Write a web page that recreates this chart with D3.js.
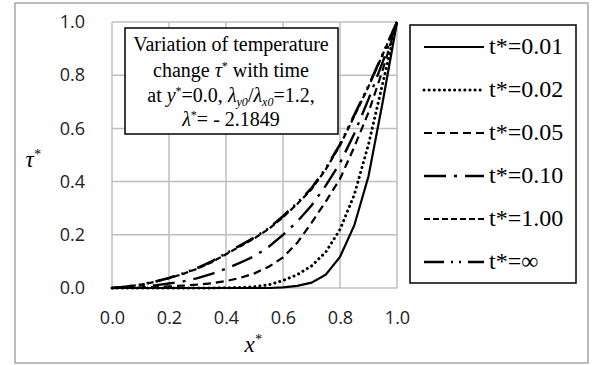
<!DOCTYPE html>
<html>
<head>
<meta charset="utf-8">
<script src="https://cdn.jsdelivr.net/npm/d3@7"></script>
<style>
  body { margin: 0; background: #fff; }
  svg { display: block; }
</style>
</head>
<body>
<svg id="chart" width="593" height="365"></svg>
<script>
// x* positions of the data points
const xVals = [0, 0.05, 0.1, 0.15, 0.2, 0.25, 0.3, 0.35, 0.4, 0.45, 0.5, 0.55, 0.6, 0.65, 0.7, 0.75, 0.8, 0.85, 0.9, 0.95, 1.0]
// tau* for each time
const tau001 = [0, 0, 0, 0, 0, 0, 0, 0, 0, 0, 0, 0, 0.002, 0.008, 0.02, 0.05, 0.117, 0.235, 0.42, 0.7, 1]
const tau002 = [0, 0, 0, 0, 0, 0, 0, 0, 0.001, 0.002, 0.005, 0.012, 0.028, 0.05, 0.083, 0.135, 0.22, 0.35, 0.54, 0.77, 1]
const tau005 = [0, 0.001, 0.002, 0.004, 0.006, 0.009, 0.013, 0.018, 0.026, 0.038, 0.055, 0.08, 0.115, 0.17, 0.245, 0.325, 0.41, 0.53, 0.66, 0.82, 1]
const tau010 = [0, 0.002, 0.005, 0.01, 0.017, 0.025, 0.037, 0.053, 0.073, 0.095, 0.12, 0.155, 0.2, 0.25, 0.31, 0.385, 0.47, 0.58, 0.71, 0.85, 1]
const tau100 = [0, 0.005, 0.012, 0.023, 0.037, 0.053, 0.073, 0.097, 0.127, 0.157, 0.187, 0.222, 0.266, 0.316, 0.371, 0.446, 0.536, 0.646, 0.757, 0.878, 1]
const tauInf = [0, 0.005, 0.013, 0.024, 0.038, 0.055, 0.075, 0.1, 0.13, 0.16, 0.19, 0.225, 0.27, 0.32, 0.375, 0.45, 0.54, 0.65, 0.76, 0.88, 1]

const seriesNames = ['t*=0.01', 't*=0.02', 't*=0.05', 't*=0.10', 't*=1.00', 't*=\u221E']
const seriesVals = [tau001, tau002, tau005, tau010, tau100, tauInf]
const xTicks = [0, 0.2, 0.4, 0.6, 0.8, 1.0]
const yTicks = [0, 0.2, 0.4, 0.6, 0.8, 1.0]

const SERIF = '"Liberation Serif"'
const SANS = '"Open Sans"'

// line styles for each series
const styles = [
  { dash: null, width: 2.2, cap: 'butt' },
  { dash: '0.1 5', width: 3, cap: 'round' },
  { dash: '8 5', width: 2.2, cap: 'butt' },
  { dash: '22 8 3 8', width: 2.4, cap: 'butt' },
  { dash: '6 3', width: 2.2, cap: 'butt' },
  { dash: '20 7 2 6 2 7', width: 2.6, cap: 'butt' }
]

const svg = d3.select('#chart')
const margin = { left: 112, top: 22 }
const innerWidth = 285, innerHeight = 266

// outer frame
svg.append('rect')
  .attr('x', 15).attr('y', 3).attr('width', 573).attr('height', 360)
  .attr('fill', '#fff').attr('stroke', '#a6a6a6').attr('stroke-width', 1.5)

const g = svg.append('g').attr('transform', 'translate(' + margin.left + ',' + margin.top + ')')

const xScale = d3.scaleLinear().domain([0, 1]).range([0, innerWidth])
const yScale = d3.scaleLinear().domain([0, 1]).range([innerHeight, 0])

// gridlines
g.append('g').selectAll('line').data(xTicks).enter().append('line')
  .attr('x1', d => xScale(d)).attr('x2', d => xScale(d))
  .attr('y1', 0).attr('y2', innerHeight)
  .attr('stroke', '#bfbfbf').attr('stroke-width', 1.5)
g.append('g').selectAll('line').data(yTicks).enter().append('line')
  .attr('y1', d => yScale(d)).attr('y2', d => yScale(d))
  .attr('x1', 0).attr('x2', innerWidth)
  .attr('stroke', '#bfbfbf').attr('stroke-width', 1.5)

// axes (labels only)
const xAxis = d3.axisBottom(xScale).tickValues(xTicks).tickFormat(d3.format('.1f')).tickSize(0).tickPadding(23)
g.append('g').attr('transform', 'translate(0,' + innerHeight + ')').call(xAxis)
  .attr('font-family', SANS).attr('font-size', 18)
  .call(a => a.select('.domain').remove())
  .call(a => a.selectAll('text').attr('fill', '#222'))
const yAxis = d3.axisLeft(yScale).tickValues(yTicks).tickFormat(d3.format('.1f')).tickSize(0).tickPadding(27)
g.append('g').call(yAxis)
  .attr('font-family', SANS).attr('font-size', 18)
  .call(a => a.select('.domain').remove())
  .call(a => a.selectAll('text').attr('fill', '#222'))

// curves
const line = d3.line()
  .x((d, i) => xScale(xVals[i]))
  .y(d => yScale(d))

g.append('g').selectAll('path').data(seriesVals).enter().append('path')
  .attr('d', d => line(d))
  .attr('fill', 'none')
  .attr('stroke', '#000')
  .attr('stroke-width', (d, i) => styles[i].width)
  .attr('stroke-dasharray', (d, i) => styles[i].dash)
  .attr('stroke-linecap', (d, i) => styles[i].cap)

// axis titles
svg.append('text')
  .attr('x', 33).attr('y', 167)
  .attr('text-anchor', 'middle')
  .attr('font-family', SERIF).attr('font-style', 'italic').attr('font-size', 23)
  .html('\u03C4<tspan dy="-8" font-size="14">*</tspan>')
svg.append('text')
  .attr('x', 253).attr('y', 352)
  .attr('text-anchor', 'middle')
  .attr('font-family', SERIF).attr('font-style', 'italic').attr('font-size', 23)
  .html('x<tspan dy="-8" font-size="14">*</tspan>')

// annotation box
svg.append('rect')
  .attr('x', 125).attr('y', 28).attr('width', 213).attr('height', 106)
  .attr('fill', '#fff').attr('stroke', '#000').attr('stroke-width', 1.5)

const note = svg.append('g')
  .attr('font-family', SERIF).attr('font-size', 20)
  .attr('text-anchor', 'middle')
note.append('text').attr('x', 231).attr('y', 51).text('Variation of temperature')
note.append('text').attr('x', 231).attr('y', 77)
  .html('change <tspan font-style="italic">\u03C4</tspan><tspan dy="-7" font-size="12">*</tspan><tspan dy="7"> with time</tspan>')
note.append('text').attr('x', 231).attr('y', 102)
  .html('at <tspan font-style="italic">y</tspan><tspan dy="-7" font-size="12">*</tspan><tspan dy="7">=0.0, </tspan>'
    + '<tspan font-style="italic">\u03BB</tspan><tspan dy="4" font-size="12" font-style="italic">y0</tspan>'
    + '<tspan dy="-4">/</tspan><tspan font-style="italic">\u03BB</tspan><tspan dy="4" font-size="12" font-style="italic">x0</tspan>'
    + '<tspan dy="-4">=1.2,</tspan>')
note.append('text').attr('x', 231).attr('y', 126)
  .html('<tspan font-style="italic">\u03BB</tspan><tspan dy="-7" font-size="12">*</tspan><tspan dy="7">= - 2.1849</tspan>')

// legend
svg.append('rect')
  .attr('x', 410).attr('y', 25).attr('width', 166).attr('height', 258)
  .attr('fill', '#fff').attr('stroke', '#000').attr('stroke-width', 1.5)

const legendY = d3.scalePoint().domain(seriesNames).range([47, 262])
const leg = svg.append('g').selectAll('g').data(seriesNames).enter().append('g')
  .attr('transform', d => 'translate(0,' + legendY(d) + ')')
leg.append('line')
  .attr('x1', 424).attr('x2', 484).attr('y1', 0).attr('y2', 0)
  .attr('stroke', '#000')
  .attr('stroke-width', (d, i) => styles[i].width)
  .attr('stroke-dasharray', (d, i) => styles[i].dash)
  .attr('stroke-linecap', (d, i) => styles[i].cap)
leg.append('text')
  .attr('x', 489).attr('y', 7)
  .attr('font-family', SERIF).attr('font-size', 24)
  .text(d => d)
</script>
</body>
</html>
